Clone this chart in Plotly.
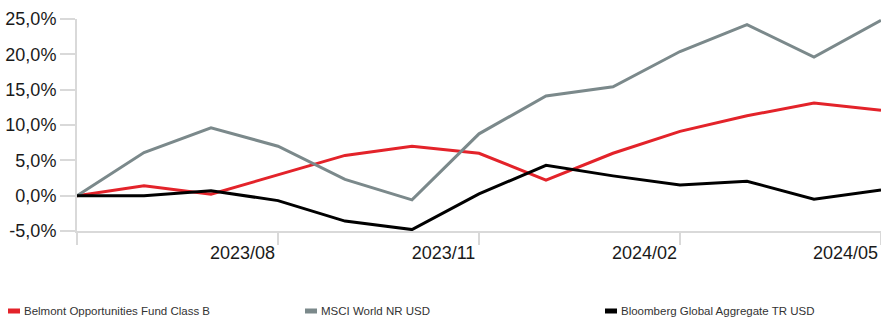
import plotly.graph_objects as go

months = ["2023/05", "2023/06", "2023/07", "2023/08", "2023/09", "2023/10", "2023/11",
          "2023/12", "2024/01", "2024/02", "2024/03", "2024/04", "2024/05"]
series_names = ["Belmont Opportunities Fund Class B", "MSCI World NR USD",
                "Bloomberg Global Aggregate TR USD"]
fund = [0.0, 1.4, 0.2, 3.0, 5.7, 7.0, 6.0, 2.2, 6.0, 9.1, 11.3, 13.1, 12.1]
msci = [0.0, 6.1, 9.6, 7.0, 2.3, -0.6, 8.75, 14.1, 15.4, 20.4, 24.2, 19.6, 24.8]
bbg = [0.0, 0.0, 0.7, -0.7, -3.6, -4.8, 0.25, 4.3, 2.8, 1.5, 2.05, -0.5, 0.8]
y_ticks = [-5, 0, 5, 10, 15, 20, 25]
y_labels = ["-5,0%", "0,0%", "5,0%", "10,0%", "15,0%", "20,0%", "25,0%"]
x_label_months = ["2023/08", "2023/11", "2024/02", "2024/05"]

colors = ["#e3232a", "#7b898b", "#000000"]
FONT = "Liberation Sans Narrow, Arial Narrow, Liberation Sans, sans-serif"
AX = "#d9d9d9"

x = list(range(len(months)))
fig = go.Figure()
for name, vals, c in zip(series_names, [fund, msci, bbg], colors):
    fig.add_trace(go.Scatter(x=x, y=vals, mode="lines", name=name,
                             line=dict(color=c, width=3), showlegend=False,
                             cliponaxis=False))

label_pos = [months.index(m) - 0.53 for m in x_label_months]

fig.update_layout(
    width=881, height=320,
    margin=dict(l=77, r=0, t=19, b=89),
    paper_bgcolor="white", plot_bgcolor="white",
    font=dict(family=FONT, color="#1a1a1a", size=18),
    xaxis=dict(range=[0, len(months) - 1], showgrid=False, zeroline=False,
               showline=True, linecolor=AX, linewidth=2,
               tickmode="array", tickvals=label_pos, ticktext=x_label_months,
               ticks="", ticklabelstandoff=4,
               minor=dict(tick0=0, dtick=3, ticks="outside", ticklen=12,
                          tickwidth=2, tickcolor=AX)),
    yaxis=dict(range=[-5, 25], showgrid=False, zeroline=False,
               showline=True, linecolor=AX, linewidth=2,
               tickmode="array", tickvals=y_ticks, ticktext=y_labels,
               ticks="outside", ticklen=15, tickwidth=2, tickcolor=AX),
)

# legend row
legend_px = [8, 305, 605]
plot_w = 881 - 77
plot_h = 320 - 19 - 89
ly = (231 - 311) / plot_h
for name, c, px in zip(series_names, colors, legend_px):
    x0 = (px - 77) / plot_w
    x1 = (px + 12 - 77) / plot_w
    fig.add_shape(type="rect", xref="paper", yref="paper", x0=x0, x1=x1,
                  y0=ly - 2.5 / plot_h, y1=ly + 2.5 / plot_h,
                  fillcolor=c, line=dict(width=0))
    fig.add_annotation(xref="paper", yref="paper", x=(px + 14 - 77) / plot_w, y=ly,
                       xanchor="left", yanchor="middle", showarrow=False,
                       text=name, font=dict(size=11.5, color="#333333", family=FONT))

fig.write_html("out.html")
